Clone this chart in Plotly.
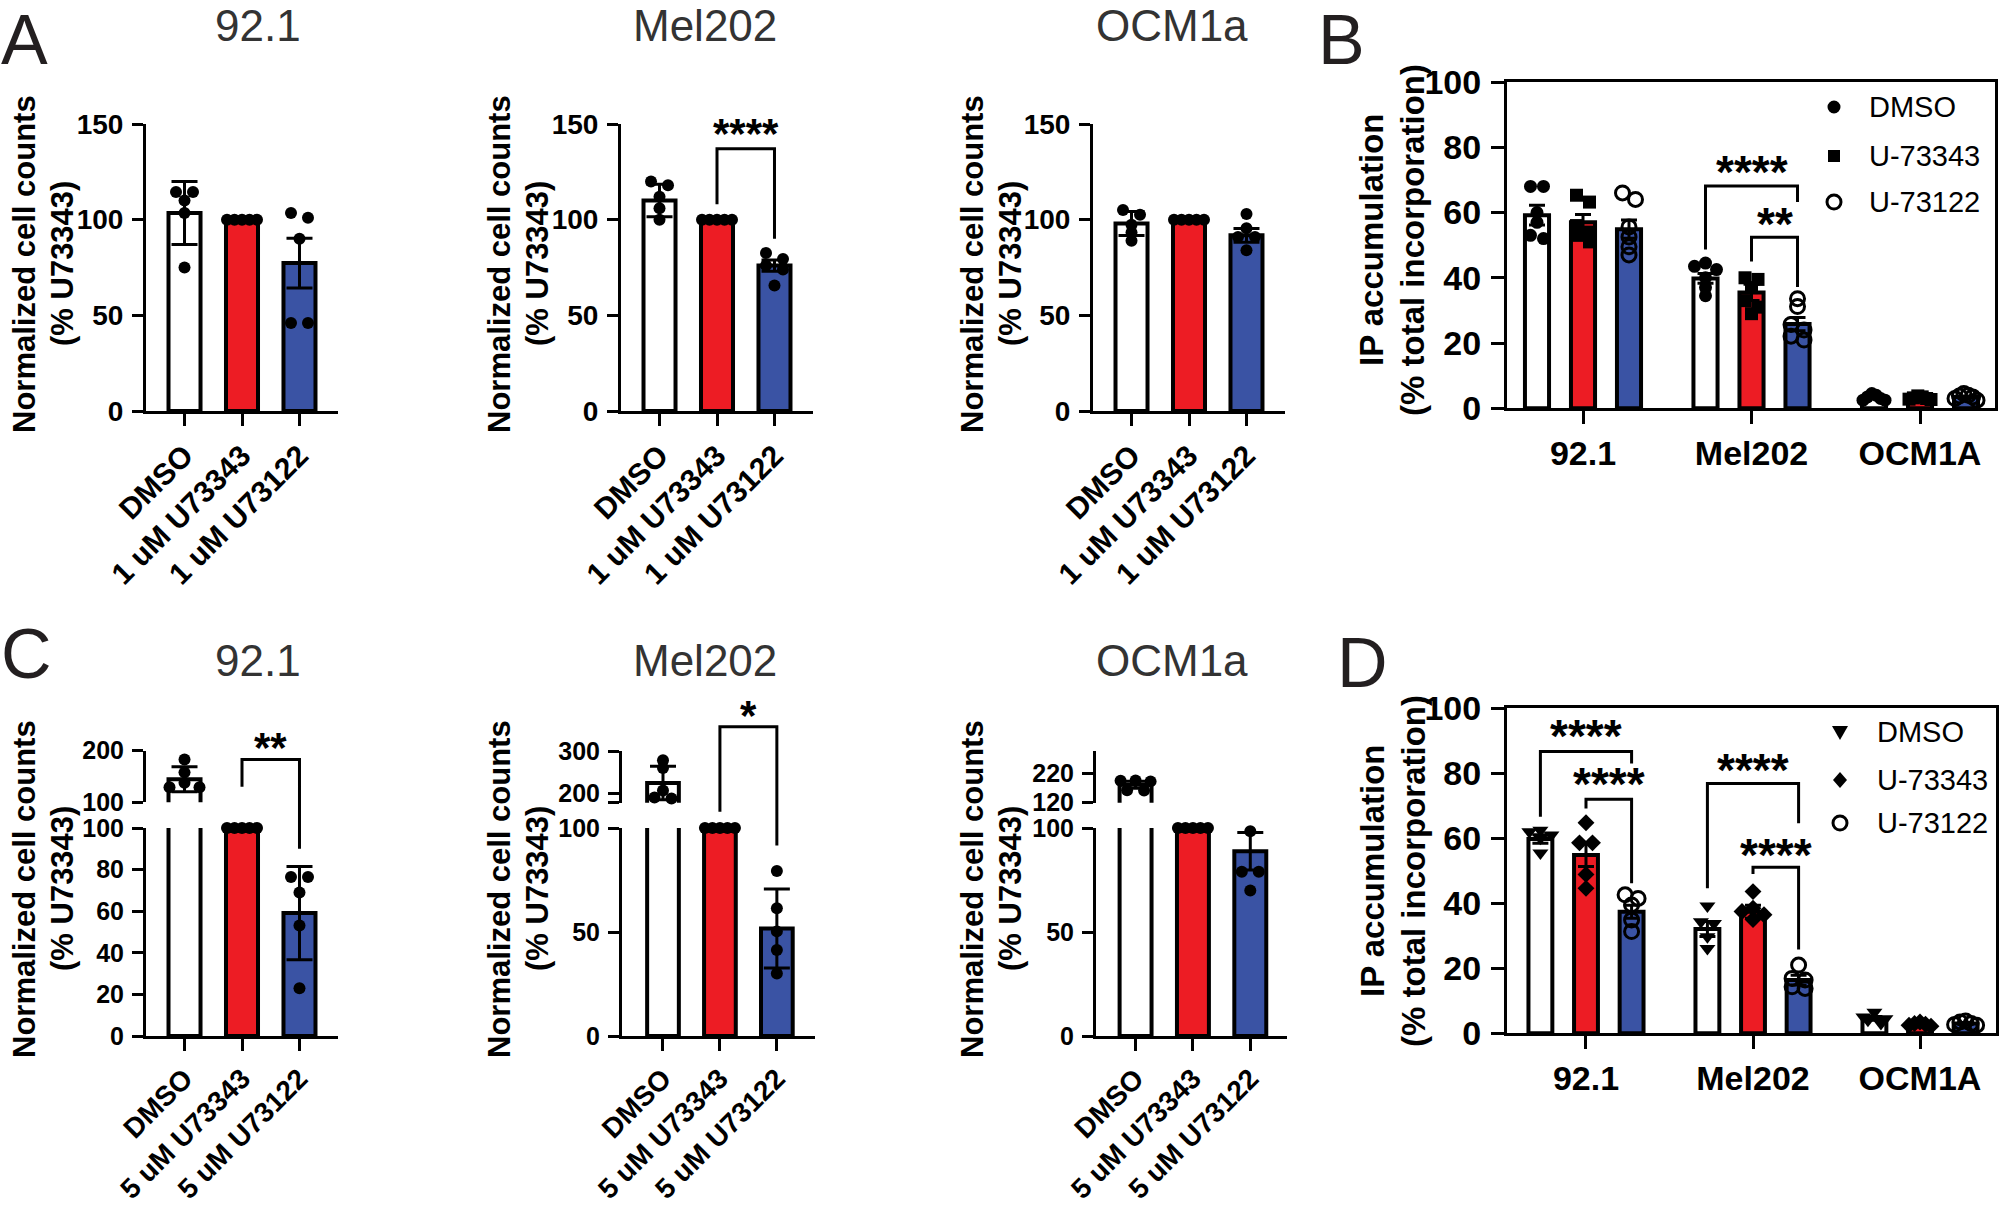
import plotly.graph_objects as go

W, H = 1999, 1207
SANS = "Arial, Liberation Sans, Helvetica, sans-serif"
WHITE, RED, BLUE = "#ffffff", "#ed1c24", "#3a53a4"
BAR_COLORS = [WHITE, RED, BLUE]

# ---------------- data ----------------
cell_lines_AC = ["92.1", "Mel202", "OCM1a"]
cell_lines_BD = ["92.1", "Mel202", "OCM1A"]
groups_A = ["DMSO", "1 uM U73343", "1 uM U73122"]
groups_C = ["DMSO", "5 uM U73343", "5 uM U73122"]
legend_labels = ["DMSO", "U-73343", "U-73122"]

# Panel A: 1 uM, normalized cell counts (% U73343); bar = mean, err = error bar
A_921_mean = [103.5, 100, 77.3]
A_921_err = [16.5, 0, 13]
A_921_dmso = [114.5, 114.5, 110, 103.5, 75]
A_921_u343 = [100, 100, 100, 100, 100]
A_921_u122 = [103.5, 101, 90, 46, 46]

A_mel_mean = [110, 100, 76]
A_mel_err = [8.5, 0, 2.9]
A_mel_dmso = [120, 118, 112, 106, 100]
A_mel_u343 = [100, 100, 100, 100, 100]
A_mel_u122 = [82.6, 79.5, 76, 74, 65.6]

A_ocm_mean = [98, 100, 91.8]
A_ocm_err = [6.3, 0, 3.6]
A_ocm_dmso = [105, 102.6, 97.4, 93.3, 89]
A_ocm_u343 = [100, 100, 100, 100, 100]
A_ocm_u122 = [103, 95.5, 91, 91, 84]

# Panel C: 5 uM
C_921_mean = [144.6, 100, 59.1]
C_921_err = [24.3, 0, 22.4]
C_921_dmso = [183, 158, 138, 129, 129]
C_921_u343 = [100, 100, 100, 100, 100]
C_921_u122 = [76.4, 76.4, 69, 53.1, 23]

C_mel_mean = [224.6, 100, 51.7]
C_mel_err = [39.7, 0, 19]
C_mel_dmso = [278, 260, 207, 190, 188]
C_mel_u343 = [100, 100, 100, 100, 100]
C_mel_u122 = [79.3, 61.4, 50.3, 41.3, 30]

C_ocm_mean = [181.6, 100, 88.8]
C_ocm_err = [12, 0, 9]
C_ocm_dmso = [196, 195, 193, 163, 162]
C_ocm_u343 = [100, 100, 100, 100, 100]
C_ocm_u122 = [111.8, 98.4, 79, 79, 70]

# Panel B: IP accumulation (% total incorporation), bars per treatment across cell lines
B_dmso_mean = [59.2, 39.8, 3.3]
B_u343_mean = [57, 35.5, 3.2]
B_u122_mean = [54.9, 25.8, 3.5]
B_dmso_err = [3, 1.5, 0.4]
B_u343_err = [2.4, 2.5, 0.2]
B_u122_err = [2.8, 2, 0.3]
B_dmso_pts = [[68, 68, 60, 57, 53, 52], [44.5, 43.5, 42.5, 40, 37, 34.5], [4.5, 4, 3.5, 3, 2.5, 2.5]]
B_u343_pts = [[65.3, 63.2, 56, 54, 53, 51], [40, 39.5, 37, 33, 31, 29], [3.8, 3.5, 3.2, 3, 2.8, 2.7]]
B_u122_pts = [[66, 64, 55.6, 52.5, 49.5, 47], [33.6, 31.2, 25.7, 24, 22.1, 20.9], [4.5, 4, 3.8, 3.5, 3, 2.5]]

# Panel D
D_dmso_mean = [59.8, 32.1, 4.6]
D_u343_mean = [54.9, 37.4, 2.8]
D_u122_mean = [37.4, 16.4, 3.0]
D_dmso_err = [1.3, 2.3, 0.6]
D_u343_err = [3.6, 2, 0.3]
D_u122_err = [2, 1.5, 0.3]
D_dmso_pts = [[62.5, 62, 61, 60, 55.5], [39.2, 34.3, 33.8, 29.7, 26.1], [6.5, 5, 4.5, 4, 3]]
D_u343_pts = [[64.8, 58.6, 58.6, 48.9, 44.6], [43.6, 38.5, 37.5, 36.5, 35], [3.5, 3, 2.8, 2.5, 2.2]]
D_u122_pts = [[42.6, 41.5, 39.5, 34.9, 31.3], [21, 16.9, 16.4, 14.3, 13.8], [3.8, 3.5, 3, 2.7, 2.5]]

# ---------------- layout geometry (pixels) ----------------
SPEC = {
    'A1': dict(n=1, x=(146, 338), xr=(-0.67, 2.67), y=(124, 411), yr=(0, 150)),
    'A2': dict(n=2, x=(621, 813), xr=(-0.67, 2.67), y=(124, 411), yr=(0, 150)),
    'A3': dict(n=3, x=(1093, 1285), xr=(-0.67, 2.67), y=(124, 411), yr=(0, 150)),
    'B': dict(n=4, x=(1507, 1995), xr=(-0.451, 2.445), y=(82, 408.3), yr=(0, 100)),
    'C1lo': dict(n=5, x=(146, 338), xr=(-0.67, 2.67), y=(828, 1036), yr=(0, 100)),
    'C1hi': dict(n=6, x=(146, 338), xr=(-0.67, 2.67), y=(750.7, 802.3), yr=(100, 200)),
    'C2lo': dict(n=7, x=(622, 815), xr=(-0.72, 2.67), y=(828, 1036), yr=(0, 100)),
    'C2hi': dict(n=8, x=(622, 815), xr=(-0.72, 2.67), y=(751, 802.7), yr=(178, 300)),
    'C3lo': dict(n=9, x=(1096, 1287), xr=(-0.69, 2.64), y=(828, 1036), yr=(0, 100)),
    'C3hi': dict(n=10, x=(1096, 1287), xr=(-0.69, 2.64), y=(751, 802.7), yr=(120, 297)),
    'D': dict(n=11, x=(1507, 1996), xr=(-0.473, 2.455), y=(708.3, 1033.3), yr=(0, 100)),
}
GROUP_OFF = [-0.273, 0, 0.273]


def refs(n):
    s = '' if n == 1 else str(n)
    return 'x' + s, 'y' + s


def xppu(sp):
    return (sp['x'][1] - sp['x'][0]) / (sp['xr'][1] - sp['xr'][0])


def yppu(sp):
    return (sp['y'][1] - sp['y'][0]) / (sp['yr'][1] - sp['yr'][0])


def px_x(key, v):
    sp = SPEC[key]
    return sp['x'][0] + (v - sp['xr'][0]) * xppu(sp)


def px_y(key, v):
    sp = SPEC[key]
    return sp['y'][1] - (v - sp['yr'][0]) * yppu(sp)


def pp_x(p):
    return p / W


def pp_y(p):
    return 1 - p / H


def swarm(vals, ypx, xpx, spacing, maxspread, tol):
    order = sorted(range(len(vals)), key=lambda i: -vals[i])
    rows, cur = [], []
    for i in order:
        if cur and (vals[cur[0]] - vals[i]) * ypx > tol:
            rows.append(cur)
            cur = []
        cur.append(i)
    if cur:
        rows.append(cur)
    offs = [0.0] * len(vals)
    for row in rows:
        k = len(row)
        if k < 2:
            continue
        sp = min(spacing, maxspread / (k - 1))
        slots = sorted([j - (k - 1) / 2 for j in range(k)], key=lambda s: (abs(s), s))
        for idx, s in zip(row, slots):
            offs[idx] = s * sp / xpx
    return offs


layout_axes = {}


def set_axes(key, xtickvals=None, xticktext=None, xangle=0, xfont=30, ytickvals=None,
             yticktext=None, yfont=28, xvisible=True, mirror=False, xticklen=12, yticklen=11):
    sp = SPEC[key]
    n = sp['n']
    xr_, yr_ = refs(n)
    suf = '' if n == 1 else str(n)
    xa = dict(domain=[sp['x'][0] / W, sp['x'][1] / W], range=list(sp['xr']), anchor=yr_,
              showgrid=False, zeroline=False, automargin=False)
    if xvisible:
        xa.update(showline=True, linewidth=3, linecolor='black', ticks='outside', ticklen=xticklen,
                  tickwidth=3, tickcolor='black', tickmode='array', tickvals=xtickvals,
                  ticktext=xticktext, tickangle=xangle, mirror=mirror,
                  tickfont=dict(family=SANS, size=xfont, color='black', weight='bold'))
    else:
        xa.update(visible=False)
    ya = dict(domain=[1 - sp['y'][1] / H, 1 - sp['y'][0] / H], range=list(sp['yr']), anchor=xr_,
              showgrid=False, zeroline=False, showline=True, linewidth=3, linecolor='black',
              ticks='outside', ticklen=yticklen, tickwidth=3, tickcolor='black', tickmode='array',
              tickvals=ytickvals, ticktext=yticktext, mirror=mirror, ticklabelstandoff=3,
              automargin=False,
              tickfont=dict(family=SANS, size=yfont, color='black', weight='bold'))
    layout_axes['xaxis' + suf] = xa
    layout_axes['yaxis' + suf] = ya


traces = []


def bar_trace(key, xs, ys, errs, colors, width, capw):
    xr_, yr_ = refs(SPEC[key]['n'])
    traces.append(go.Bar(x=xs, y=ys, width=width,
                         marker=dict(color=colors, line=dict(color='black', width=4)),
                         error_y=dict(type='data', array=errs, color='black', thickness=3, width=capw),
                         xaxis=xr_, yaxis=yr_, showlegend=False, hoverinfo='skip'))


def point_trace(key, xcenter, vals, size, symbol='circle', spacing=17, maxspread=30, tol=7, lw=0):
    sp = SPEC[key]
    xr_, yr_ = refs(sp['n'])
    offs = swarm(vals, yppu(sp), xppu(sp), spacing, maxspread, tol)
    traces.append(go.Scatter(x=[xcenter + o for o in offs], y=vals, mode='markers',
                             marker=dict(size=size, color='black', symbol=symbol,
                                         line=dict(color='black', width=lw)),
                             cliponaxis=False, xaxis=xr_, yaxis=yr_, showlegend=False,
                             hoverinfo='skip'))


# ---- Panel A ----
A_sets = [('A1', A_921_mean, A_921_err, A_921_dmso, A_921_u343, A_921_u122),
          ('A2', A_mel_mean, A_mel_err, A_mel_dmso, A_mel_u343, A_mel_u122),
          ('A3', A_ocm_mean, A_ocm_err, A_ocm_dmso, A_ocm_u343, A_ocm_u122)]
for key, mean, err, p0, p1, p2 in A_sets:
    set_axes(key, xtickvals=[0, 1, 2], xticktext=groups_A, xangle=-45, xfont=30,
             ytickvals=[0, 50, 100, 150], yticktext=['0', '50', '100', '150'])
    bar_trace(key, [0, 1, 2], mean, err, BAR_COLORS, 0.557, 13)
    for i, pts in enumerate([p0, p1, p2]):
        point_trace(key, i, pts, 12)

# ---- Panel C ----
C_sets = [('C1', C_921_mean, C_921_err, C_921_dmso, C_921_u343, C_921_u122,
           [0, 20, 40, 60, 80, 100], [100, 200], ['100', '200']),
          ('C2', C_mel_mean, C_mel_err, C_mel_dmso, C_mel_u343, C_mel_u122,
           [0, 50, 100], [178, 200, 300], ['', '200', '300']),
          ('C3', C_ocm_mean, C_ocm_err, C_ocm_dmso, C_ocm_u343, C_ocm_u122,
           [0, 50, 100], [120, 220], ['120', '220'])]
for key, mean, err, p0, p1, p2, lo_ticks, hi_ticks, hi_text in C_sets:
    lo, hi = key + 'lo', key + 'hi'
    set_axes(lo, xtickvals=[0, 1, 2], xticktext=groups_C, xangle=-45, xfont=28,
             ytickvals=lo_ticks, yticktext=[str(t) for t in lo_ticks], yfont=25)
    set_axes(hi, xvisible=False, ytickvals=hi_ticks, yticktext=hi_text, yfont=25)
    bar_trace(lo, [0, 1, 2], mean, err, BAR_COLORS, 0.557, 13)
    bar_trace(hi, [0], mean[:1], err[:1], [WHITE], 0.557, 13)
    point_trace(hi, 0, p0, 12)
    point_trace(lo, 1, p1, 12)
    point_trace(lo, 2, p2, 12)

# ---- Panels B and D ----
BD_sets = [('B', [B_dmso_mean, B_u343_mean, B_u122_mean], [B_dmso_err, B_u343_err, B_u122_err],
            [B_dmso_pts, B_u343_pts, B_u122_pts],
            [('circle', 13, 0), ('square', 13, 0), ('circle-open', 14, 3)]),
           ('D', [D_dmso_mean, D_u343_mean, D_u122_mean], [D_dmso_err, D_u343_err, D_u122_err],
            [D_dmso_pts, D_u343_pts, D_u122_pts],
            [('triangle-down', 14, 0), ('diamond', 13, 0), ('circle-open', 14, 3)])]
for key, means, errs, pts, syms in BD_sets:
    set_axes(key, xtickvals=[0, 1, 2], xticktext=cell_lines_BD, xfont=34,
             ytickvals=[0, 20, 40, 60, 80, 100], yticktext=['0', '20', '40', '60', '80', '100'],
             yfont=34, mirror=True, xticklen=13, yticklen=13)
    for t in range(3):
        bar_trace(key, [g + GROUP_OFF[t] for g in range(3)], means[t], errs[t],
                  [BAR_COLORS[t]] * 3, 0.143, 8)
    for t in range(3):
        sym, sz, lw = syms[t]
        for g in range(3):
            point_trace(key, g + GROUP_OFF[t], pts[t][g], sz, symbol=sym, spacing=13,
                        maxspread=22, tol=7, lw=lw)

# ---------------- annotations & shapes ----------------
annotations = []
shapes = []


def text(x, y, s, size, family=SANS, weight='bold', color='black', angle=0, xanchor='center',
         yanchor='middle', yshift=0):
    annotations.append(dict(x=pp_x(x), y=pp_y(y), xref='paper', yref='paper', text=s,
                            showarrow=False, textangle=angle, xanchor=xanchor, yanchor=yanchor,
                            yshift=yshift, borderpad=0,
                            font=dict(family=family, size=size, color=color, weight=weight)))


# panel letters (top row anchored to the top edge, bottom row centred)
text(0, 0, 'A', 70, weight='normal', color='#231f20', xanchor='left', yanchor='top')
text(1317, 0, 'B', 70, weight='normal', color='#231f20', xanchor='left', yanchor='top')
text(0, 654, 'C', 70, weight='normal', color='#231f20', xanchor='left')
text(1336, 663, 'D', 70, weight='normal', color='#231f20', xanchor='left')

# panel titles (cell lines)
for name, x in zip(cell_lines_AC, [258, 705, 1172]):
    text(x, 0, name, 44, weight='normal', color='#333333', yanchor='top')
    text(x, 660, name, 44, weight='normal', color='#333333')

# y-axis titles
for x1, x2 in [(24, 62), (499, 537), (972, 1010)]:
    for yc in (264, 889):
        text(x1, yc, 'Normalized cell counts', 31, angle=-90)
        text(x2, yc, '(% U73343)', 31, angle=-90)
for yc in (240, 871):
    text(1372, yc, 'IP accumulation', 33, angle=-90)
    text(1413, yc, '(% total incorporation)', 33, angle=-90)


def bracket(x0key, x0, x1, top, left, right):
    # top/left/right are (axis-key, value) pairs
    X0, X1 = px_x(x0key, x0), px_x(x0key, x1)
    YT, YL, YR = px_y(*top), px_y(*left), px_y(*right)
    path = 'M {} {} L {} {} L {} {} L {} {}'.format(pp_x(X0), pp_y(YL), pp_x(X0), pp_y(YT),
                                                    pp_x(X1), pp_y(YT), pp_x(X1), pp_y(YR))
    shapes.append(dict(type='path', path=path, xref='paper', yref='paper',
                       line=dict(color='black', width=3)))


def stars(key, x, ykey, y, s, size):
    text(px_x(key, x), px_y(ykey, y), s, size, yshift=-0.17 * size)


# Panel A significance
bracket('A2', 1, 2, ('A2', 137), ('A2', 108), ('A2', 90))
stars('A2', 1.5, 'A2', 148.7, '****', 42)
# Panel C significance
bracket('C1lo', 1, 2, ('C1hi', 183), ('C1hi', 130), ('C1lo', 90))
stars('C1lo', 1.5, 'C1hi', 220.7, '**', 42)
bracket('C2lo', 1, 2, ('C2hi', 357), ('C2hi', 156.5), ('C2lo', 91.6))
stars('C2lo', 1.5, 'C2hi', 401.7, '*', 42)
# Panel B significance
bracket('B', 1 + GROUP_OFF[0], 1 + GROUP_OFF[2], ('B', 68.1), ('B', 48.7), ('B', 63.2))
stars('B', 1.0, 'B', 74.8, '****', 46)
bracket('B', 1, 1 + GROUP_OFF[2], ('B', 52.4), ('B', 45), ('B', 37.2))
stars('B', 1.137, 'B', 59, '**', 46)
# Panel D significance
bracket('D', GROUP_OFF[0], GROUP_OFF[2], ('D', 86.7), ('D', 66.6), ('D', 83))
stars('D', 0.0, 'D', 93.9, '****', 46)
bracket('D', 0, GROUP_OFF[2], ('D', 72), ('D', 69.2), ('D', 46.2))
stars('D', 0.137, 'D', 79, '****', 46)
bracket('D', 1 + GROUP_OFF[0], 1 + GROUP_OFF[2], ('D', 76.9), ('D', 44.6), ('D', 64.6))
stars('D', 1.0, 'D', 83.4, '****', 46)
bracket('D', 1, 1 + GROUP_OFF[2], ('D', 51.1), ('D', 49), ('D', 25.8))
stars('D', 1.137, 'D', 57.4, '****', 46)


# legends (drawn manually)
def legend_marker(kind, cx, cy):
    if kind in ('circle', 'circle-open'):
        r = 6.5 if kind == 'circle' else 7
        shapes.append(dict(type='circle', xref='paper', yref='paper',
                           x0=pp_x(cx - r), x1=pp_x(cx + r), y0=pp_y(cy + r), y1=pp_y(cy - r),
                           fillcolor='black' if kind == 'circle' else 'rgba(0,0,0,0)',
                           line=dict(color='black', width=0 if kind == 'circle' else 3)))
    elif kind == 'square':
        r = 6
        shapes.append(dict(type='rect', xref='paper', yref='paper',
                           x0=pp_x(cx - r), x1=pp_x(cx + r), y0=pp_y(cy + r), y1=pp_y(cy - r),
                           fillcolor='black', line=dict(color='black', width=0)))
    else:
        if kind == 'triangle-down':
            pts = [(cx - 8, cy - 6), (cx + 8, cy - 6), (cx, cy + 8)]
        else:
            pts = [(cx, cy - 8), (cx + 7, cy), (cx, cy + 8), (cx - 7, cy)]
        path = 'M ' + ' L '.join('{} {}'.format(pp_x(a), pp_y(b)) for a, b in pts) + ' Z'
        shapes.append(dict(type='path', path=path, xref='paper', yref='paper',
                           fillcolor='black', line=dict(color='black', width=0)))


for (mx, tx, ys, kinds) in [(1834, 1868, [107, 156, 202], ['circle', 'square', 'circle-open']),
                            (1840, 1876, [732, 780, 823], ['triangle-down', 'diamond', 'circle-open'])]:
    for lab, y, kind in zip(legend_labels, ys, kinds):
        legend_marker(kind, mx, y)
        text(tx, y, lab, 29, weight='normal', xanchor='left')

fig = go.Figure(data=traces)
fig.update_layout(width=W, height=H, autosize=False,
                  margin=dict(l=0, r=0, t=0, b=0, pad=0, autoexpand=False),
                  paper_bgcolor='white', plot_bgcolor='rgba(0,0,0,0)', showlegend=False,
                  barmode='overlay', annotations=annotations, shapes=shapes,
                  font=dict(family=SANS, color='black'), **layout_axes)
fig.write_html("out.html", config={'displayModeBar': False, 'staticPlot': True},
               post_script="document.body.style.margin='0';document.body.style.overflow='hidden';")
